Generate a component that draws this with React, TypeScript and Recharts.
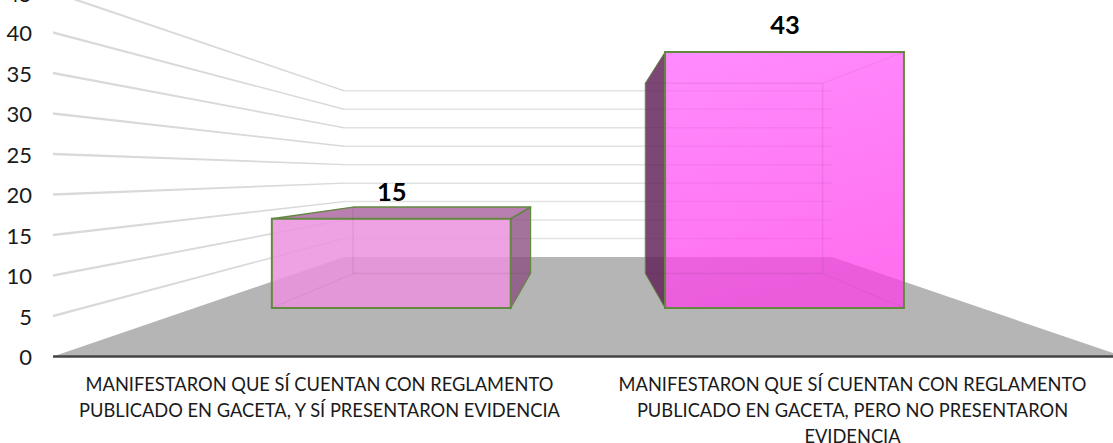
// App.tsx
import { BarChart, Bar, XAxis, YAxis, CartesianGrid, LabelList } from 'recharts';

const categoryLines = [
  ['MANIFESTARON QUE SÍ CUENTAN CON REGLAMENTO', 'PUBLICADO EN GACETA, Y SÍ PRESENTARON EVIDENCIA'],
  ['MANIFESTARON QUE SÍ CUENTAN CON REGLAMENTO', 'PUBLICADO EN GACETA, PERO NO PRESENTARON', 'EVIDENCIA'],
];
const values = [15, 43];
const yTicks = [0, 5, 10, 15, 20, 25, 30, 35, 40, 45];

const chartData = categoryLines.map((lines, i) => ({
  name: lines.join(' '),
  value: values[i],
}));

// the plot is laid out flat on the front plane, then pushed back towards the vanishing point
const CHART_WIDTH = 1140;
const CHART_HEIGHT = 463;
const TOP_SHIFT = 20; // chart is moved up so the 45 tick gets cut like in the reference
const VP_X = 588;
const VP_Y = 193.6;
const K_WALL = 0.456;
const K_BAR_FRONT = 0.735;
const K_BAR_BACK = 0.546;
const BASE_Y = 376.5;

const project = (x: number, y: number, k: number) => ({
  x: VP_X + (x - VP_X) * k,
  y: VP_Y + (y - VP_Y) * k,
});

const pts = (list: { x: number; y: number }[]) => list.map(p => `${p.x},${p.y}`).join(' ');

const GridLine = (props: any) => {
  const { x1, x2, y1 } = props;
  const back = project(x1, y1, K_WALL);
  const backEnd = project(x2, y1, K_WALL);
  if (Math.abs(y1 - BASE_Y) < 1) {
    return (
      <g>
        <polygon
          points={pts([{ x: x1, y: y1 }, back, backEnd, { x: x2, y: y1 }])}
          fill="#b5b5b5"
        />
        <line x1={x1} y1={y1} x2={x2} y2={y1} stroke="#444444" strokeWidth={2.5} />
      </g>
    );
  }
  // side wall part gets thinner going back
  const side = [
    { x: x1, y: y1 - 1.2 },
    { x: back.x, y: back.y - 0.7 },
    { x: back.x, y: back.y + 0.7 },
    { x: x1, y: y1 + 1.2 },
  ];
  return (
    <g>
      <polygon points={pts(side)} fill="#d9d9d9" />
      <line x1={back.x} y1={back.y} x2={backEnd.x} y2={backEnd.y} stroke="#e2e2e2" strokeWidth={1.5} />
    </g>
  );
};

const EDGE = '#62893f';

const Box3D = (props: any) => {
  const { x, y, width, height, index } = props;
  const left = x;
  const right = x + width;
  const bottom = y + height;

  const fTL = project(left, y, K_BAR_FRONT);
  const fTR = project(right, y, K_BAR_FRONT);
  const fBL = project(left, bottom, K_BAR_FRONT);
  const fBR = project(right, bottom, K_BAR_FRONT);
  const bTL = project(left, y, K_BAR_BACK);
  const bTR = project(right, y, K_BAR_BACK);
  const bBL = project(left, bottom, K_BAR_BACK);
  const bBR = project(right, bottom, K_BAR_BACK);

  const inner = 'rgba(90,50,90,0.10)';

  if (index === 0) {
    return (
      <g>
        <polygon points={pts([bTL, bTR, fTR, fTL])} fill="#b87fb0" stroke={EDGE} strokeWidth={1.5} strokeLinejoin="round" />
        <polygon points={pts([fTR, bTR, bBR, fBR])} fill="rgba(140,80,130,0.8)" stroke={EDGE} strokeWidth={1.2} />
        <polygon points={pts([fTL, fTR, fBR, fBL])} fill="rgba(236,146,222,0.85)" stroke={EDGE} strokeWidth={2} />
        <polyline points={pts([bTL, bBL, bBR])} fill="none" stroke={inner} strokeWidth={1.5} />
        <line x1={bBL.x} y1={bBL.y} x2={fBL.x} y2={fBL.y} stroke={inner} strokeWidth={1} />
      </g>
    );
  }
  return (
    <g>
      <defs>
        <linearGradient id="tallFace" x1="0" y1="0" x2="0.25" y2="1">
          <stop offset="0" stopColor="#ff61ff" stopOpacity={0.73} />
          <stop offset="1" stopColor="#ff3bea" stopOpacity={0.73} />
        </linearGradient>
      </defs>
      <polygon points={pts([bTL, fTL, fBL, bBL])} fill="rgba(95,30,85,0.82)" stroke={EDGE} strokeWidth={1} />
      <polygon points={pts([fTL, fTR, fBR, fBL])} fill="url(#tallFace)" stroke={EDGE} strokeWidth={2} />
      <polyline points={pts([bTL, bTR, bBR, bBL])} fill="none" stroke={inner} strokeWidth={1.5} />
      <line x1={bTR.x} y1={bTR.y} x2={fTR.x} y2={fTR.y} stroke={inner} strokeWidth={1} />
      <line x1={bBR.x} y1={bBR.y} x2={fBR.x} y2={fBR.y} stroke={inner} strokeWidth={1} />
    </g>
  );
};

const BarValue = (props: any) => {
  const { x, y, width, value } = props;
  const top = project(x + width / 2, y, K_BAR_FRONT);
  return (
    <text x={top.x + 0.5} y={top.y - 18} textAnchor="middle" fontFamily="Lato" fontWeight={700} fontSize={25.5} fill="#000">
      {value}
    </text>
  );
};

const CategoryTick = (props: any) => {
  const { x, y, payload } = props;
  const lines = categoryLines[payload.index] || [];
  const cx = x - 1 - 2 * payload.index;
  return (
    <text x={cx} y={y} textAnchor="middle" fontFamily="Lato" fontSize={18.3} fill="#1a1a1a">
      {lines.map((line, i) => (
        <tspan key={i} x={cx} y={y + 26.5 + i * 26}>
          {line}
        </tspan>
      ))}
    </text>
  );
};

export default function App() {
  return (
    <div style={{ position: 'absolute', left: 0, top: 0, width: 1113, height: 443, overflow: 'hidden', background: '#fff' }}>
      <div style={{ marginTop: -TOP_SHIFT }}>
        <BarChart
          width={CHART_WIDTH}
          height={CHART_HEIGHT}
          data={chartData}
          margin={{ top: 12, right: 17, left: 0, bottom: 0 }}
          barCategoryGap="19.6%"
        >
          <CartesianGrid vertical={false} horizontal={GridLine} />
          <XAxis
            dataKey="name"
            interval={0}
            height={86.5}
            axisLine={false}
            tickLine={false}
            tick={CategoryTick}
          />
          <YAxis
            width={53}
            domain={[0, 45]}
            ticks={yTicks}
            axisLine={false}
            tickLine={false}
            tickMargin={15}
            tick={{ fontFamily: 'Lato', fontSize: 22, fill: '#1a1a1a', dy: 1 }}
          />
          <Bar dataKey="value" shape={Box3D} isAnimationActive={false}>
            <LabelList dataKey="value" content={BarValue} />
          </Bar>
        </BarChart>
      </div>
    </div>
  );
}
